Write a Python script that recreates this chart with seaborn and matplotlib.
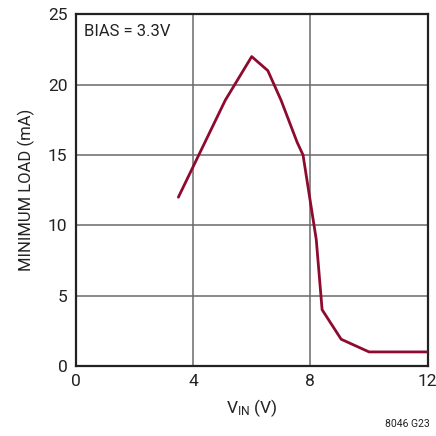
import matplotlib
matplotlib.use("Agg")
import matplotlib.pyplot as plt
import seaborn as sns
import pandas as pd

# Minimum load vs input voltage, BIAS = 3.3V
vin = [3.5, 5.1, 6.0, 6.55, 7.0, 7.55, 7.75, 8.2, 8.4, 9.05, 10.0, 11.0, 12.0]
min_load = [12.0, 18.9, 22.0, 21.0, 18.9, 15.9, 15.0, 9.0, 4.0, 1.9, 1.0, 1.0, 1.0]
x_ticks = [0, 4, 8, 12]
y_ticks = [0, 5, 10, 15, 20, 25]

sns.set_theme(style="white")
family = "Roboto"
plt.rcParams["font.family"] = [family, "DejaVu Sans"]
plt.rcParams["mathtext.fontset"] = "custom"
plt.rcParams["mathtext.rm"] = family
plt.rcParams["mathtext.it"] = family

df = pd.DataFrame({"vin": vin, "load": min_load})

fig = plt.figure(figsize=(4.36, 4.36), dpi=100)
ax = fig.add_axes([0.1736, 0.1606, 0.8074, 0.8064])

ax.set_xlim(0, 12)
ax.set_ylim(0, 25)
ax.set_xticks(x_ticks)
ax.set_yticks(y_ticks)
ax.grid(True, color="#6a6a6a", linewidth=1.1)
ax.set_axisbelow(True)

sns.lineplot(data=df, x="vin", y="load", ax=ax, color="#8e0a2e",
             linewidth=2.0, sort=False, zorder=3)

for s in ax.spines.values():
    s.set_color("#222222")
    s.set_linewidth(1.6)
ax.tick_params(length=0, labelsize=12.5, colors="#222222", pad=6)

ax.set_xlabel(r"V$_{\mathrm{IN}}$ (V)", fontsize=12.5, color="#222222", labelpad=6)
ax.set_ylabel("MINIMUM LOAD (mA)", fontsize=12, color="#222222", labelpad=9)

ax.text(0.3, 23.8, "BIAS = 3.3V", fontsize=12, color="#222222",
        ha="left", va="center")
fig.text(0.985, 0.015, "8046 G23", fontsize=7.5, color="#222222",
         ha="right", va="bottom")

fig.savefig("out.png", dpi=100, facecolor="white")
